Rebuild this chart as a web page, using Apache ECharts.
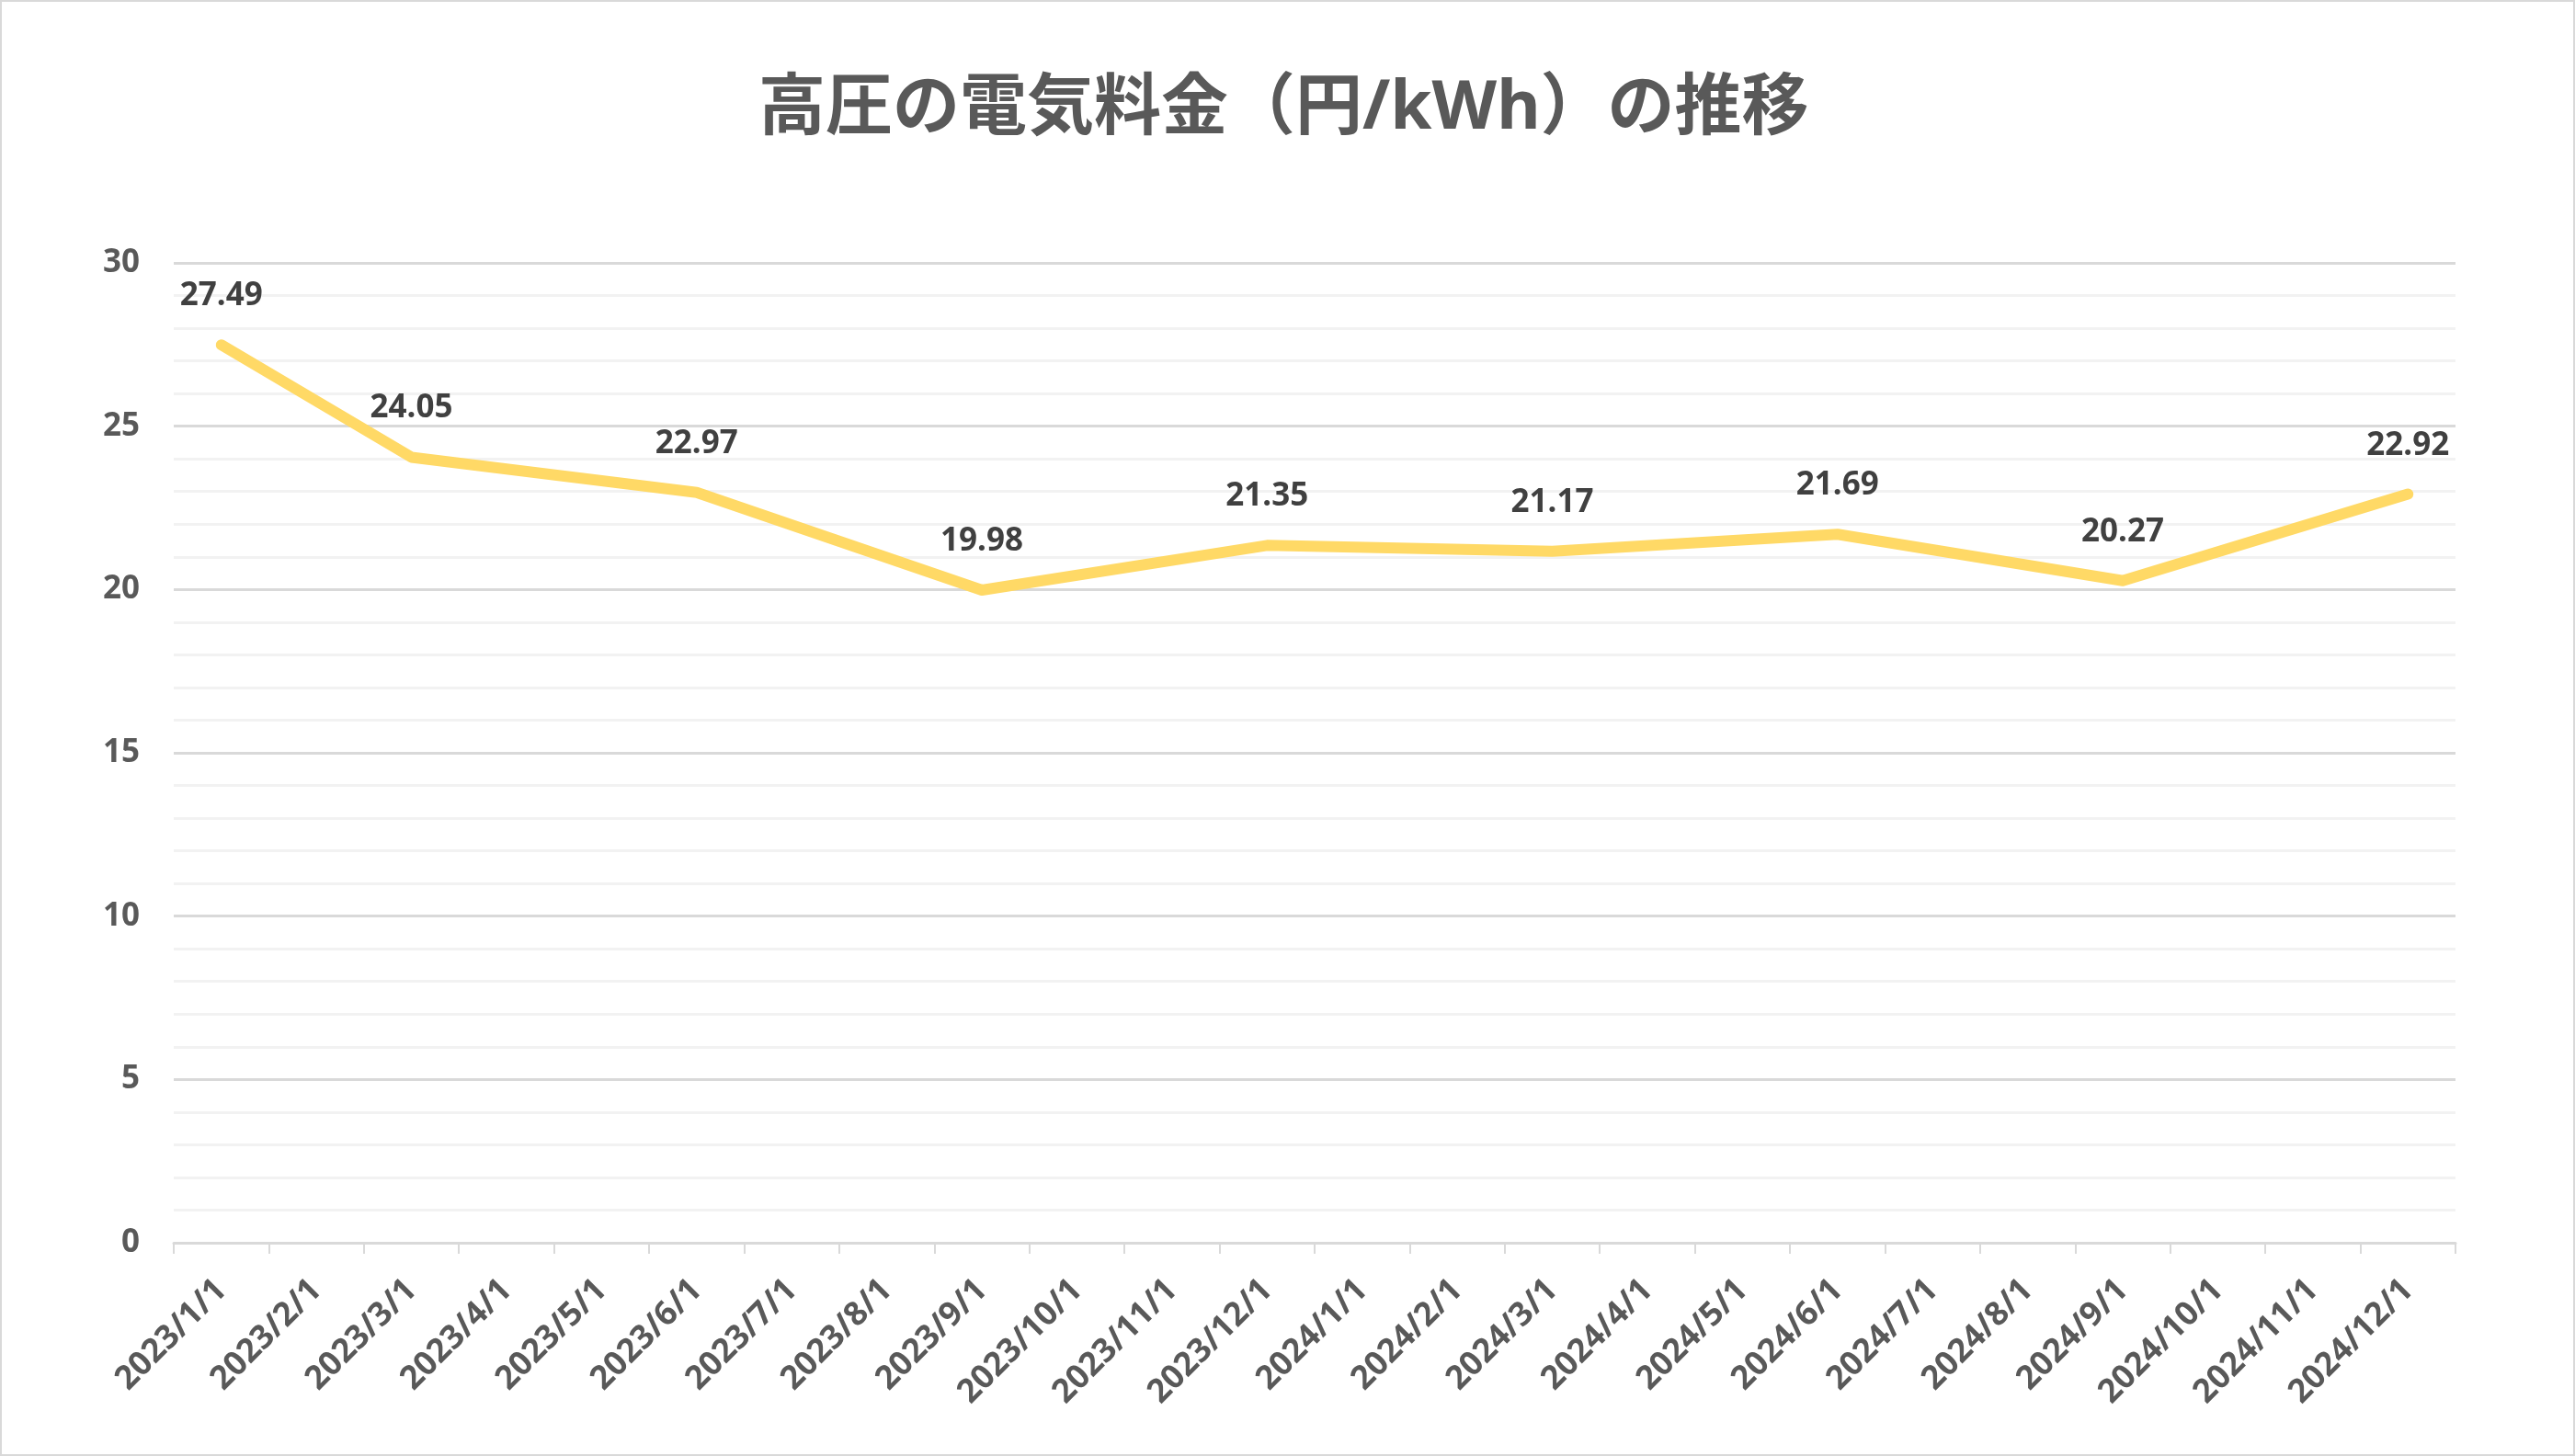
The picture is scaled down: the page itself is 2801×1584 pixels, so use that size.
<!DOCTYPE html>
<html>
<head>
<meta charset="utf-8">
<script src="https://cdn.jsdelivr.net/npm/echarts@6/dist/echarts.min.js"></script>
<style>
  html, body { margin: 0; padding: 0; background: #fff; }
  #chart { width: 2801px; height: 1584px; box-sizing: border-box; border: 2px solid #d9d9d9; }
</style>
</head>
<body>
<div id="chart"></div>
<script>
// 月ごとのカテゴリ（日付軸）
const months = [
  '2023/1/1', '2023/2/1', '2023/3/1', '2023/4/1', '2023/5/1', '2023/6/1',
  '2023/7/1', '2023/8/1', '2023/9/1', '2023/10/1', '2023/11/1', '2023/12/1',
  '2024/1/1', '2024/2/1', '2024/3/1', '2024/4/1', '2024/5/1', '2024/6/1',
  '2024/7/1', '2024/8/1', '2024/9/1', '2024/10/1', '2024/11/1', '2024/12/1'
]
// 高圧の電気料金（円/kWh）、データのない月は null
const prices = [
  27.49, null, 24.05, null, null, 22.97,
  null, null, 19.98, null, null, 21.35,
  null, null, 21.17, null, null, 21.69,
  null, null, 20.27, null, null, 22.92
]
const yTicks = { min: 0, max: 30, interval: 5 }

const font = '"Noto Sans", "Noto Sans CJK JP", sans-serif'

let chart = echarts.init(document.getElementById('chart'))
chart.setOption({
  backgroundColor: '#fff',
  animation: false,
  title: {
    text: '高圧の電気料金（円/kWh）の推移',
    left: 818,
    top: 76,
    textStyle: {
      fontFamily: font,
      fontSize: 73,
      fontWeight: 'bold',
      color: '#595959',
    },
  },
  grid: {
    left: 187,
    right: 128,
    top: 284,
    bottom: 230,
  },
  xAxis: {
    type: 'category',
    data: months,
    boundaryGap: true,
    axisLine: { lineStyle: { color: '#d9d9d9', width: 3 } },
    axisTick: { show: true, length: 12, lineStyle: { color: '#d9d9d9', width: 2 } },
    axisLabel: {
      rotate: 45,
      interval: 0,
      margin: 46,
      fontFamily: font,
      fontSize: 36,
      fontWeight: 'bold',
      color: '#595959',
    },
    splitLine: { show: false },
  },
  yAxis: {
    type: 'value',
    min: yTicks.min,
    max: yTicks.max,
    interval: yTicks.interval,
    axisLine: { show: false },
    axisTick: { show: false },
    axisLabel: {
      margin: 37,
      fontFamily: font,
      fontSize: 35,
      fontWeight: 'bold',
      color: '#595959',
    },
    splitLine: { lineStyle: { color: '#d9d9d9', width: 3 } },
    minorTick: { show: false, splitNumber: 5 },
    minorSplitLine: { show: true, lineStyle: { color: '#f2f2f2', width: 3 } },
  },
  series: [
    {
      name: '高圧',
      type: 'line',
      data: prices,
      connectNulls: true,
      showAllSymbol: true,
      symbol: 'circle',
      symbolSize: 1,
      itemStyle: { color: '#ffd966' },
      lineStyle: { color: '#ffd966', width: 12, cap: 'round', join: 'round' },
      label: {
        show: true,
        position: 'top',
        distance: 35,
        fontFamily: font,
        fontSize: 35,
        fontWeight: 'bold',
        color: '#404040',
        formatter: p => p.value.toFixed(2),
      },
    },
  ],
})
</script>
</body>
</html>
